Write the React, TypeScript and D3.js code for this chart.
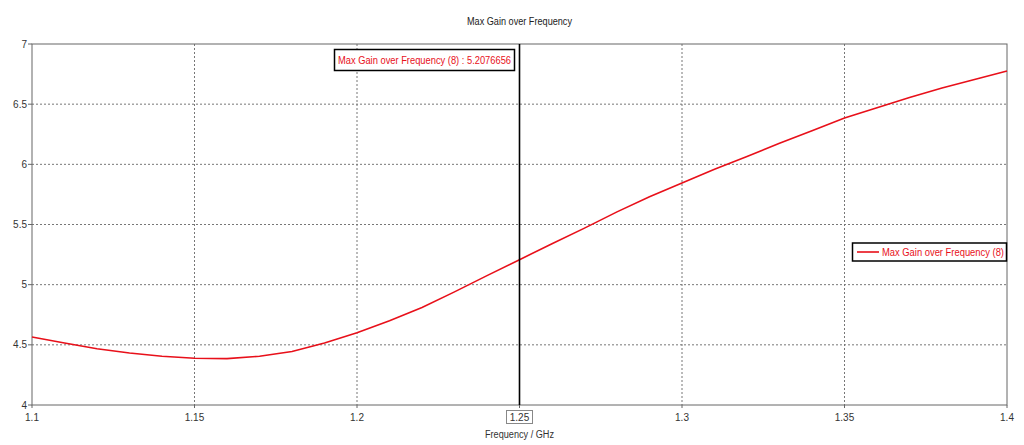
import React from "react";
import * as d3 from "d3";

const freq = [1.10, 1.11, 1.12, 1.13, 1.14, 1.15, 1.16, 1.17, 1.18, 1.19, 1.20, 1.21, 1.22, 1.23, 1.24, 1.25, 1.26, 1.27, 1.28, 1.29, 1.30, 1.31, 1.32, 1.33, 1.34, 1.35, 1.36, 1.37, 1.38, 1.39, 1.40];
const gain = [4.565, 4.515, 4.468, 4.432, 4.405, 4.388, 4.385, 4.405, 4.445, 4.515, 4.600, 4.700, 4.810, 4.940, 5.075, 5.2077, 5.340, 5.470, 5.605, 5.730, 5.845, 5.960, 6.065, 6.175, 6.280, 6.385, 6.470, 6.555, 6.635, 6.705, 6.775];
const xTicks = [1.1, 1.15, 1.2, 1.25, 1.3, 1.35, 1.4];
const yTicks = [4, 4.5, 5, 5.5, 6, 6.5, 7];
const markerX = 1.25;
const markerLabel = "Max Gain over Frequency (8) : 5.2076656";
const seriesName = "Max Gain over Frequency (8)";
const title = "Max Gain over Frequency";
const xTitle = "Frequency / GHz";

export default function App() {
  const W = 1024, H = 445;
  const L = 32, R = 1007, T = 44, B = 405;
  const x = d3.scaleLinear().domain([1.1, 1.4]).range([L, R]);
  const y = d3.scaleLinear().domain([4, 7]).range([B, T]);
  const line = d3.line<number>().x((_, i) => x(freq[i])).y((d) => y(d));
  const red = "#e8101a";
  const fs = 10;
  return (
    <svg width={W} height={H} style={{ position: "absolute", left: 0, top: 0, background: "#fff" }} fontFamily="'Liberation Sans', Arial, sans-serif">
      <rect x={0} y={0} width={W} height={H} fill="#fff" />
      <text x={467} y={25} fontSize={fs} fill="#222" textLength={105} lengthAdjust="spacingAndGlyphs">{title}</text>
      {xTicks.slice(1, -1).map((t) => (
        <line key={"gx" + t} x1={x(t)} x2={x(t)} y1={T} y2={B} stroke="#777" strokeWidth={1} strokeDasharray="2,2" />
      ))}
      {yTicks.slice(1, -1).map((t) => (
        <line key={"gy" + t} x1={L} x2={R} y1={y(t)} y2={y(t)} stroke="#777" strokeWidth={1} strokeDasharray="2,2" />
      ))}
      <rect x={L} y={T} width={R - L} height={B - T} fill="none" stroke="#666" strokeWidth={1} />
      {yTicks.map((t) => (
        <g key={"ty" + t}>
          <line x1={L - 4} x2={L} y1={y(t)} y2={y(t)} stroke="#666" />
          <text x={L - 5} y={y(t) + 3.5} textAnchor="end" fontSize={fs} fill="#333">{t}</text>
        </g>
      ))}
      {xTicks.map((t) => (
        <g key={"tx" + t}>
          <line x1={x(t)} x2={x(t)} y1={B} y2={B + 3} stroke="#666" />
          <text x={x(t)} y={421} textAnchor="middle" fontSize={fs} fill="#333">{t}</text>
        </g>
      ))}
      <rect x={x(markerX) - 13} y={410.5} width={26} height={13} fill="none" stroke="#888" strokeWidth={1} />
      <text x={485} y={438} fontSize={fs} fill="#333" textLength={69} lengthAdjust="spacingAndGlyphs">{xTitle}</text>
      <path d={line(gain) || ""} fill="none" stroke={red} strokeWidth={1.6} />
      <line x1={x(markerX)} x2={x(markerX)} y1={T} y2={B} stroke="#000" strokeWidth={1.6} />
      <rect x={334.5} y={49.5} width={180} height={21} fill="#fff" stroke="#000" strokeWidth={1.5} />
      <text x={338} y={63.5} fontSize={fs} fill={red} textLength={173} lengthAdjust="spacingAndGlyphs">{markerLabel}</text>
      <rect x={852.5} y={243} width={154} height={18} fill="#fff" stroke="#000" strokeWidth={1.5} />
      <line x1={857} x2={879} y1={252} y2={252} stroke={red} strokeWidth={1.6} />
      <text x={882} y={256} fontSize={fs} fill={red} textLength={122} lengthAdjust="spacingAndGlyphs">{seriesName}</text>
    </svg>
  );
}
